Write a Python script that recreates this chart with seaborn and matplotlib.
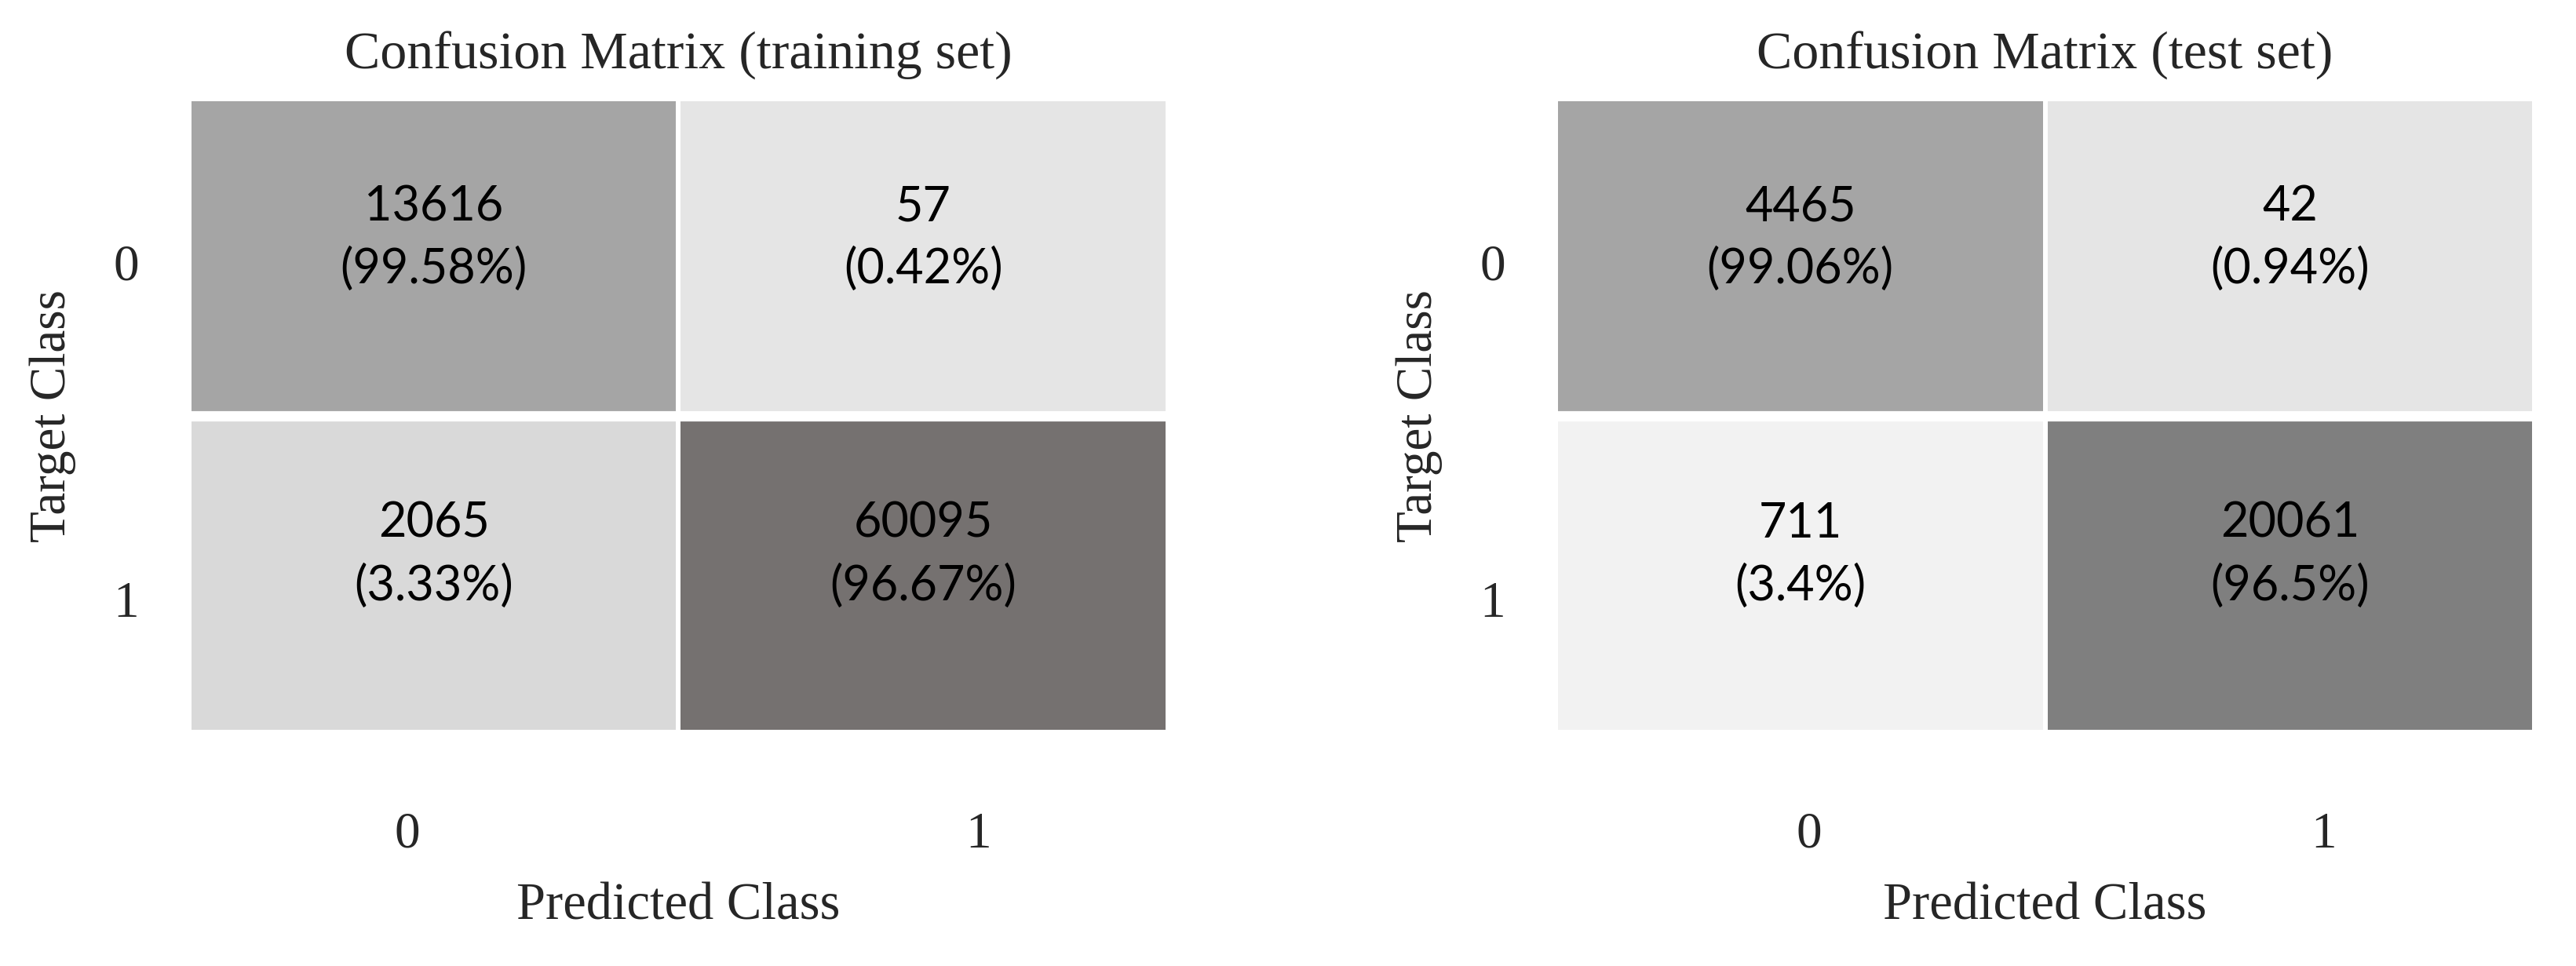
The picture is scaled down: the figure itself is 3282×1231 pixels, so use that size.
import numpy as np
import matplotlib
matplotlib.use('Agg')
import matplotlib.pyplot as plt
import seaborn as sns
from matplotlib.colors import ListedColormap

# confusion matrix values
classes = ['0', '1']
train_counts = [[13616, 57], [2065, 60095]]
train_pct = [['99.58', '0.42'], ['3.33', '96.67']]
test_counts = [[4465, 42], [711, 20061]]
test_pct = [['99.06', '0.94'], ['3.4', '96.5']]

# cell shades (picked by hand in the original)
train_shades = ['#a5a5a5', '#e5e5e5', '#d9d9d9', '#757170']
test_shades = ['#a5a5a5', '#e5e5e5', '#f2f2f2', '#7f7f7f']

sns.set_theme(style='white')
plt.rcParams['font.family'] = ['Liberation Serif', 'DejaVu Serif']

fig = plt.figure(figsize=(32.82, 12.31), dpi=100)
ax1 = fig.add_axes([0.0734, 0.242, 0.380, 0.6556])
ax2 = fig.add_axes([0.6039, 0.242, 0.380, 0.6556])


def draw_cm(ax, counts, pct, shades, title, xtick_pos, ytick_pos):
    counts = np.array(counts)
    labels = np.array([[f'{counts[i, j]}\n({pct[i][j]}%)' for j in range(2)] for i in range(2)])
    cell_idx = np.arange(4).reshape(2, 2)
    sns.heatmap(cell_idx, ax=ax, cmap=ListedColormap(shades), vmin=-0.5, vmax=3.5,
                annot=labels, fmt='', cbar=False, linewidths=3.2, linecolor='white',
                annot_kws=dict(color='black', fontsize=44, family='Lato', linespacing=1.48))
    ax.axhline(1, color='white', lw=9.5)
    # text block sits a bit above the cell centre
    for t in ax.texts:
        x, y = t.get_position()
        t.set_position((x, y - 0.06))
    # tick labels are not quite centred on the cells in the original
    ax.set_xticks(xtick_pos, classes)
    ax.set_yticks(ytick_pos, classes)
    ax.set_title(title, fontsize=49, pad=28)
    ax.set_xlabel('Predicted Class', fontsize=48)
    ax.set_ylabel('Target Class', fontsize=47)
    ax.xaxis.set_label_coords(0.5, -0.275)
    ax.xaxis.label.set_va('center')
    ax.yaxis.set_label_coords(-0.139, 0.5)
    ax.yaxis.label.set_va('center')
    ax.tick_params(axis='x', labelsize=47, pad=73, length=0)
    ax.tick_params(axis='y', labelsize=47, pad=46, length=0, labelrotation=0)


draw_cm(ax1, train_counts, train_pct, train_shades, 'Confusion Matrix (training set)',
        [0.446, 1.612], [0.532, 1.597])
draw_cm(ax2, test_counts, test_pct, test_shades, 'Confusion Matrix (test set)',
        [0.518, 1.57], [0.532, 1.597])

fig.savefig('out.png', dpi=100)
